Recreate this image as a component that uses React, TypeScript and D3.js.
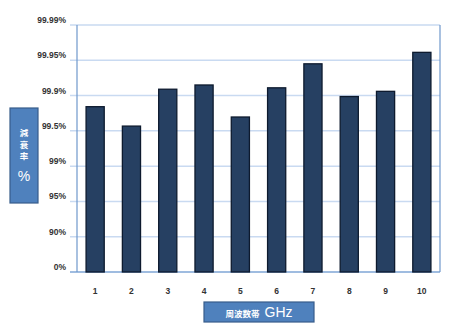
import React from "react";
import * as d3 from "d3";

// Frequency bands (GHz) and attenuation rate per band (%)
const bands = ["1", "2", "3", "4", "5", "6", "7", "8", "9", "10"];
const rates = [99.774, 99.554, 99.909, 99.915, 99.657, 99.911, 99.945, 99.889, 99.906, 99.959];

// Non-uniform y axis: each tick sits at an equal step
const tickValues = [0, 90, 95, 99, 99.5, 99.9, 99.95, 99.99];
const tickLabels = ["0%", "90%", "95%", "99%", "99.5%", "99.9%", "99.95%", "99.99%"];

const yTitleChars = ["減", "衰", "率"];

const W = 452;
const H = 327;
const left = 77;
const right = 440;
const top = 25;
const bottom = 272;

export default function App() {
  const step = (bottom - top) / (tickValues.length - 1);
  const y = d3
    .scaleLinear()
    .domain(tickValues)
    .range(tickValues.map((_, i) => bottom - i * step));
  const x = d3
    .scaleBand<string>()
    .domain(bands)
    .range([left, right])
    .paddingInner(0.5)
    .paddingOuter(0.25);

  const font = "'Liberation Sans', Arial, sans-serif";

  return (
    <svg
      width={W}
      height={H}
      style={{ position: "absolute", left: 0, top: 0, background: "#fff" }}
    >
      {/* gridlines */}
      {tickValues.map((v, i) => (
        <line
          key={"g" + i}
          x1={70}
          x2={right}
          y1={y(v)}
          y2={y(v)}
          stroke={i === 0 ? "#7fa6d6" : "#c9daf1"}
          strokeWidth={1.5}
        />
      ))}
      {/* axis frame */}
      <line x1={left} x2={left} y1={top} y2={bottom} stroke="#6f98cc" strokeWidth={1.2} />
      <line x1={right} x2={right} y1={top} y2={bottom} stroke="#6f98cc" strokeWidth={1.2} />

      {/* y tick labels */}
      {tickValues.map((v, i) => (
        <text
          key={"t" + i}
          x={66}
          y={y(v) - 2}
          textAnchor="end"
          fontFamily={font}
          fontSize={8.5}
          fontWeight="bold"
          fill="#333"
        >
          {tickLabels[i]}
        </text>
      ))}

      {/* bars */}
      {bands.map((b, i) => (
        <rect
          key={"b" + b}
          x={x(b)}
          y={y(rates[i])}
          width={x.bandwidth()}
          height={y(0) - y(rates[i])}
          fill="#264062"
          stroke="#0d1a2e"
          strokeWidth={1.3}
        />
      ))}

      {/* x tick labels */}
      {bands.map((b) => (
        <text
          key={"x" + b}
          x={(x(b) as number) + x.bandwidth() / 2}
          y={294}
          textAnchor="middle"
          fontFamily={font}
          fontSize={8.5}
          fontWeight="bold"
          fill="#333"
        >
          {b}
        </text>
      ))}

      {/* y title box */}
      <rect x={10} y={108} width={28} height={95} fill="#4f81bd" stroke="#385d8a" strokeWidth={1.2} />
      {yTitleChars.map((c, i) => (
        <text
          key={"c" + i}
          x={24}
          y={136 + i * 11.5}
          textAnchor="middle"
          fontFamily="'Noto Sans CJK JP', sans-serif"
          fontSize={8.5}
          fontWeight="bold"
          fill="#fff"
        >
          {c}
        </text>
      ))}
      <text x={24} y={181} textAnchor="middle" fontFamily={font} fontSize={14} fill="#fff">
        %
      </text>

      {/* x title box */}
      <rect x={204} y={302} width={110} height={20} fill="#4f81bd" stroke="#385d8a" strokeWidth={1.2} />
      <text x={259} y={317} textAnchor="middle" fill="#fff">
        <tspan fontFamily="'Noto Sans CJK JP', sans-serif" fontSize={8.5} fontWeight="bold">
          周波数帯
        </tspan>
        <tspan fontFamily={font} fontSize={14} dx={5}>
          GHz
        </tspan>
      </text>
    </svg>
  );
}
